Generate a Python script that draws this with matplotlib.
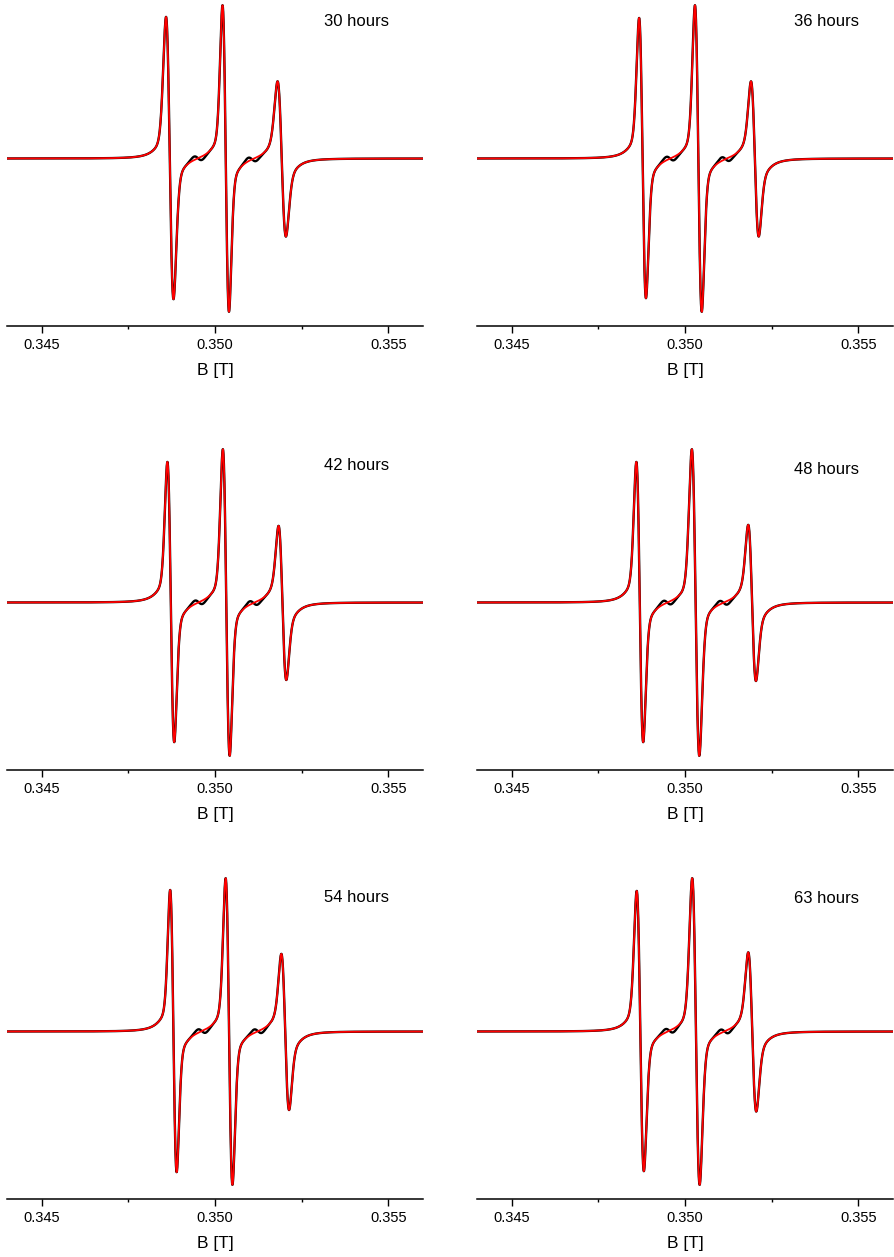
import numpy as np
import matplotlib.pyplot as plt

plt.rcParams['font.family'] = ['Liberation Sans', 'DejaVu Sans']

labels = ["30 hours", "36 hours", "42 hours", "48 hours", "54 hours", "63 hours"]

# field (T) of the upper and lower extremum of each of the three hyperfine lines
b_max = [
    [0.34858, 0.35021, 0.35180],
    [0.34867, 0.35028, 0.35190],
    [0.34862, 0.35022, 0.35183],
    [0.34859, 0.35019, 0.35182],
    [0.34870, 0.35030, 0.35191],
    [0.34860, 0.35020, 0.35182],
]
b_min = [
    [0.34881, 0.35041, 0.35205],
    [0.34888, 0.35049, 0.35213],
    [0.34883, 0.35043, 0.35206],
    [0.34880, 0.35042, 0.35205],
    [0.34890, 0.35051, 0.35214],
    [0.34882, 0.35043, 0.35206],
]
# signal at those extrema (arb. units, baseline = 0)
y_max = [
    [143, 152, 77],
    [141, 152, 77],
    [141, 152, 76],
    [141, 152, 78],
    [142, 152, 78],
    [142, 152, 78],
]
y_min = [
    [-138, -153, -78],
    [-138, -153, -78],
    [-138, -153, -78],
    [-138, -153, -78],
    [-139, -153, -78],
    [-137, -153, -81],
]
# small extra lines that only show up in the measured (black) trace
extra_b = [
    [0.34951, 0.35107],
    [0.34957, 0.35117],
    [0.34953, 0.35111],
    [0.34949, 0.35111],
    [0.34962, 0.35124],
    [0.34955, 0.35114],
]
extra_amp = 3.5
extra_pp = 0.00024

broad_amp = 20.0      # broad underlying component
broad_pp = 0.00035


def gauss_d(b, c, pp):
    # first-derivative gaussian, peak value 1
    u = (b - c) / (pp / 2)
    return -u * np.exp(-(u**2 - 1) / 2)


def lor_d(b, c, pp):
    # first-derivative lorentzian, peak value 1
    u = (b - c) / (pp * np.sqrt(3) / 2)
    return -2 * u / (1 + u**2) ** 2 / (3 * np.sqrt(3) / 8)


def spectrum(b, k):
    bx = np.array(b_max[k])
    bn = np.array(b_min[k])
    cen = (bx + bn) / 2
    pp = (bn - bx) * 0.9

    def broad(x):
        return sum(broad_amp * lor_d(x, c, broad_pp) for c in cen)

    pts = np.concatenate([bx, bn])
    target = np.concatenate([y_max[k], y_min[k]]) - broad(pts)
    A = np.column_stack([gauss_d(pts, c, p) for c, p in zip(cen, pp)])
    amps = np.linalg.lstsq(A, target, rcond=None)[0]

    fit = broad(b) + sum(a * gauss_d(b, c, p) for a, c, p in zip(amps, cen, pp))
    meas = fit + sum(extra_amp * gauss_d(b, c, extra_pp) for c in extra_b[k])
    return meas, fit


B = np.linspace(0.344, 0.356, 4000)

fig = plt.figure(figsize=(8.94, 12.57), dpi=100)
W, H = 894, 1257
col_left = [7, 477]
row_axis = [326, 770, 1199]
ax_w, ax_h = 416, 326
label_y = [0.934, 0.934, 0.934, 0.922, 0.925, 0.922]

for k in range(6):
    r, c = divmod(k, 2)
    ax = fig.add_axes([col_left[c] / W, 1 - row_axis[r] / H, ax_w / W, ax_h / H])
    meas, fit = spectrum(B, k)
    ax.plot(B, meas, color='black', lw=1.7)
    ax.plot(B, fit, color='red', lw=1.3)

    ax.set_xlim(0.344, 0.356)
    ax.set_ylim(-167.5, 158.5)
    for s in ['left', 'right', 'top']:
        ax.spines[s].set_visible(False)
    ax.spines['bottom'].set_linewidth(1.1)
    ax.set_yticks([])
    ax.set_xticks([0.345, 0.350, 0.355])
    ax.set_xticklabels(['0.345', '0.350', '0.355'])
    ax.set_xticks([0.3475, 0.3525], minor=True)
    ax.tick_params(axis='x', which='major', direction='out', length=5, width=1, labelsize=10.5, pad=3.5)
    ax.tick_params(axis='x', which='minor', direction='out', length=2.5, width=1)
    ax.set_xlabel('B [T]', fontsize=12.5, labelpad=8)
    ax.text(0.918, label_y[k], labels[k], transform=ax.transAxes,
            ha='right', va='center', fontsize=12)

fig.savefig('out.png', dpi=100)
